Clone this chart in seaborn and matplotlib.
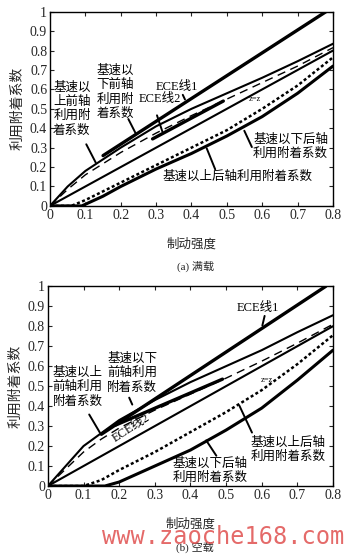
import numpy as np
import pandas as pd
import seaborn as sns
import matplotlib.pyplot as plt

# ---- data: z (braking strength) vs utilised adhesion ----
ECE1_Z = [0.15, 0.78]
ECE1_PHI = [0.259, 1.0]
ZZ_Z = [0, 0.8]
ZZ_PHI = [0, 0.8]

# (a) full load
FULL_FRONT_HI_Z = [0, 0.05, 0.1, 0.2, 0.3, 0.4, 0.5, 0.6, 0.7, 0.8]
FULL_FRONT_HI = [0, 0.10, 0.18, 0.30, 0.41, 0.50, 0.58, 0.66, 0.745, 0.835]
FULL_FRONT_LO_Z = [0, 0.05, 0.1, 0.2, 0.3, 0.4, 0.5, 0.6, 0.7, 0.8]
FULL_FRONT_LO = [0, 0.085, 0.16, 0.275, 0.375, 0.465, 0.55, 0.635, 0.72, 0.815]
FULL_ECE2_Z = [0.29, 0.49]
FULL_ECE2 = [0.345, 0.54]
FULL_REAR_LO_Z = [0, 0.06, 0.1, 0.2, 0.3, 0.4, 0.5, 0.6, 0.7, 0.8]
FULL_REAR_LO = [0, 0, 0.03, 0.12, 0.21, 0.30, 0.39, 0.50, 0.62, 0.765]
FULL_REAR_HI_Z = [0, 0.09, 0.15, 0.2, 0.3, 0.4, 0.5, 0.6, 0.7, 0.8]
FULL_REAR_HI = [0, 0, 0.05, 0.10, 0.19, 0.27, 0.36, 0.46, 0.58, 0.72]

# (b) empty
EMPTY_FRONT_HI_Z = [0, 0.05, 0.1, 0.2, 0.3, 0.4, 0.5, 0.6, 0.7, 0.8]
EMPTY_FRONT_HI = [0, 0.10, 0.20, 0.33, 0.43, 0.52, 0.60, 0.68, 0.77, 0.855]
EMPTY_FRONT_LO_Z = [0, 0.05, 0.1, 0.15, 0.2, 0.3, 0.4, 0.5, 0.6, 0.7, 0.8]
EMPTY_FRONT_LO = [0, 0.085, 0.17, 0.235, 0.29, 0.38, 0.46, 0.54, 0.625, 0.715, 0.81]
EMPTY_ECE2_Z = [0.19, 0.49]
EMPTY_ECE2 = [0.305, 0.535]
EMPTY_REAR_HI_Z = [0, 0.1, 0.15, 0.2, 0.3, 0.4, 0.5, 0.6, 0.7, 0.8]
EMPTY_REAR_HI = [0, 0, 0.03, 0.08, 0.17, 0.27, 0.37, 0.48, 0.61, 0.755]
EMPTY_REAR_LO_Z = [0, 0.16, 0.2, 0.3, 0.4, 0.5, 0.6, 0.7, 0.8]
EMPTY_REAR_LO = [0, 0, 0.02, 0.10, 0.18, 0.28, 0.39, 0.53, 0.68]

XTICKS = [0, 0.1, 0.2, 0.3, 0.4, 0.5, 0.6, 0.7, 0.8]
YTICKS = [0, 0.1, 0.2, 0.3, 0.4, 0.5, 0.6, 0.7, 0.8, 0.9, 1]

sns.set_style('ticks')
plt.rcParams['font.family'] = ['Liberation Serif', 'Noto Sans CJK SC']
plt.rcParams['xtick.direction'] = 'in'
plt.rcParams['ytick.direction'] = 'in'

fig = plt.figure(figsize=(3.52, 5.58), dpi=100)
ax1 = fig.add_axes([0.142, 0.631, 0.804, 0.348])
ax2 = fig.add_axes([0.136, 0.129, 0.810, 0.358])

K = 'k'


def curve(ax, z, phi, **kw):
    df = pd.DataFrame({'z': z, 'phi': phi})
    sns.lineplot(data=df, x='z', y='phi', ax=ax, color=K, sort=False,
                 estimator=None, legend=False, **kw)


def frame(ax):
    ax.set_xlim(0, 0.8)
    ax.set_ylim(0, 1)
    ax.set_xticks(XTICKS)
    ax.set_xticklabels([f'{t:g}' for t in XTICKS])
    ax.set_yticks(YTICKS)
    ax.set_yticklabels([f'{t:g}' for t in YTICKS])
    ax.tick_params(labelsize=10, length=3, width=0.8, top=True, right=True, pad=2)
    for s in ax.spines.values():
        s.set_linewidth(1.0)
        s.set_color(K)
    ax.set_xlabel('制动强度', fontsize=9, labelpad=12)
    ax.set_ylabel('利用附着系数', fontsize=10, labelpad=4)


def arrow(ax, start, end):
    ax.annotate('', xy=end, xytext=start,
                arrowprops=dict(arrowstyle='-', lw=1.4, color=K))


def txt(ax, x, y, s, size=9, **kw):
    ax.text(x, y, s, fontsize=size, ha='center', va='center', color=K,
            linespacing=1.25, **kw)


# ---- (a) full load ----
curve(ax1, ECE1_Z, ECE1_PHI, linewidth=2.4)
curve(ax1, FULL_FRONT_HI_Z, FULL_FRONT_HI, linewidth=1.5)
curve(ax1, FULL_FRONT_LO_Z, FULL_FRONT_LO, linewidth=1.0, linestyle=(0, (6, 4)))
curve(ax1, FULL_ECE2_Z, FULL_ECE2, linewidth=2.4)
curve(ax1, ZZ_Z, ZZ_PHI, linewidth=1.5)
curve(ax1, FULL_REAR_LO_Z, FULL_REAR_LO, linewidth=1.8, linestyle=(0, (1.2, 1)))
curve(ax1, FULL_REAR_HI_Z, FULL_REAR_HI, linewidth=2.2)
frame(ax1)

txt(ax1, 0.062, 0.50, '基速以\n上前轴\n利用附\n着系数')
txt(ax1, 0.184, 0.585, '基速以\n下前轴\n利用附\n着系数')
txt(ax1, 0.36, 0.61, 'ECE线1')
txt(ax1, 0.31, 0.55, 'ECE线2')
txt(ax1, 0.58, 0.55, 'z=z', size=6)
txt(ax1, 0.68, 0.305, '基速以下后轴\n利用附着系数')
txt(ax1, 0.53, 0.15, '基速以上后轴利用附着系数')
arrow(ax1, (0.099, 0.33), (0.133, 0.21))
arrow(ax1, (0.218, 0.46), (0.246, 0.36))
arrow(ax1, (0.372, 0.585), (0.385, 0.535))
arrow(ax1, (0.30, 0.48), (0.32, 0.37))
arrow(ax1, (0.574, 0.29), (0.546, 0.40))
arrow(ax1, (0.47, 0.175), (0.44, 0.31))

# ---- (b) empty ----
curve(ax2, ECE1_Z, ECE1_PHI, linewidth=2.4)
curve(ax2, EMPTY_FRONT_HI_Z, EMPTY_FRONT_HI, linewidth=1.5)
curve(ax2, EMPTY_FRONT_LO_Z, EMPTY_FRONT_LO, linewidth=1.0, linestyle=(0, (6, 4)))
curve(ax2, EMPTY_ECE2_Z, EMPTY_ECE2, linewidth=2.4)
curve(ax2, ZZ_Z, ZZ_PHI, linewidth=1.5)
curve(ax2, EMPTY_REAR_HI_Z, EMPTY_REAR_HI, linewidth=1.8, linestyle=(0, (1.2, 1)))
curve(ax2, EMPTY_REAR_LO_Z, EMPTY_REAR_LO, linewidth=2.2)
frame(ax2)

txt(ax2, 0.084, 0.495, '基速以上\n前轴利用\n附着系数')
txt(ax2, 0.237, 0.565, '基速以下\n前轴利用\n附着系数')
txt(ax2, 0.59, 0.89, 'ECE线1')
txt(ax2, 0.235, 0.29, 'ECE线2', rotation=33)
txt(ax2, 0.615, 0.53, 'z=z', size=6)
txt(ax2, 0.674, 0.183, '基速以上后轴\n利用附着系数')
txt(ax2, 0.455, 0.078, '基速以下后轴\n利用附着系数')
arrow(ax2, (0.112, 0.37), (0.15, 0.255))
arrow(ax2, (0.225, 0.455), (0.24, 0.395))
arrow(ax2, (0.61, 0.865), (0.60, 0.79))
arrow(ax2, (0.576, 0.255), (0.534, 0.415))
arrow(ax2, (0.477, 0.14), (0.44, 0.24))

# captions
fig.text(0.555, 0.523, '(a) 满载', fontsize=8, ha='center', va='center')
fig.text(0.555, 0.02, '(b) 空载', fontsize=8, ha='center', va='center')
fig.text(0.635, 0.038, 'www.zaoche168.com', fontsize=17, ha='center', va='center',
         color='#e0504f', alpha=0.85, family='DejaVu Sans Mono')

fig.savefig('out.png', dpi=100)
